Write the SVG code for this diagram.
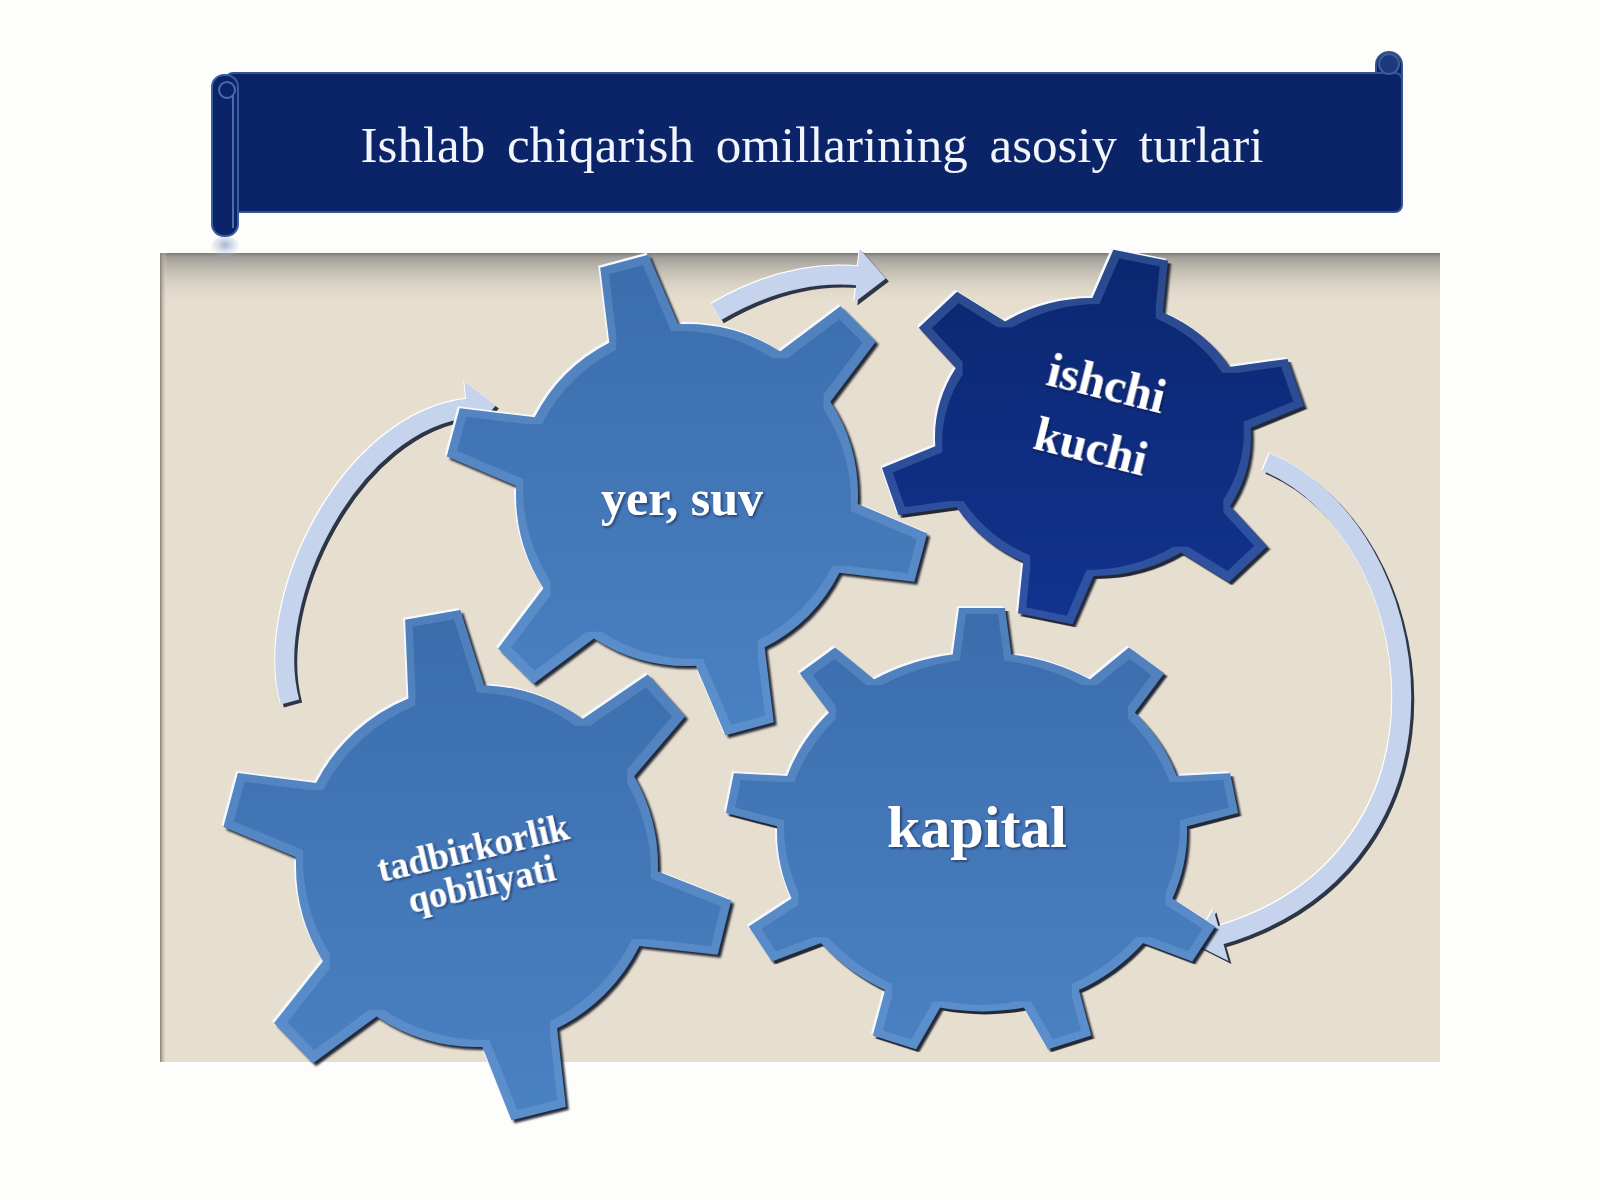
<svg xmlns="http://www.w3.org/2000/svg" width="1600" height="1200" viewBox="0 0 1600 1200">
<defs>
  <style>
    .title { font-family: "Liberation Serif", "Times New Roman", serif; fill: #f2f5fb; text-anchor: middle; }
    .gear-text { font-family: "Liberation Serif", "Times New Roman", serif; font-weight: bold; fill: #ffffff; text-anchor: middle; }
    .arrow { fill: none; stroke: #c6d3ed; stroke-width: 19; marker-end: url(#head); }
  </style>
  <marker id="head" markerUnits="userSpaceOnUse" viewBox="-4 -30 34 60" markerWidth="34" markerHeight="60" refX="0" refY="0" orient="auto">
    <path d="M-3,-27 L26,0 L-3,27 Z" fill="#c6d3ed"/>
  </marker>
  <linearGradient id="gearBlue" x1="0" y1="0" x2="0" y2="1">
    <stop offset="0" stop-color="#3a6cac"/>
    <stop offset="1" stop-color="#4b82c3"/>
  </linearGradient>
  <linearGradient id="gearNavy" x1="0" y1="0" x2="0" y2="1">
    <stop offset="0" stop-color="#0b266f"/>
    <stop offset="1" stop-color="#123490"/>
  </linearGradient>
  <linearGradient id="panelTop" x1="0" y1="0" x2="0" y2="1">
    <stop offset="0" stop-color="#7d7b77" stop-opacity="1"/>
    <stop offset="0.08" stop-color="#9d9b96" stop-opacity="0.95"/>
    <stop offset="1" stop-color="#e6dece" stop-opacity="0"/>
  </linearGradient>
  <linearGradient id="panelLeft" x1="0" y1="0" x2="1" y2="0">
    <stop offset="0" stop-color="#857f76"/>
    <stop offset="1" stop-color="#e6dece" stop-opacity="0"/>
  </linearGradient>
  <radialGradient id="reflect" cx="0.5" cy="0.4" r="0.6">
    <stop offset="0" stop-color="#8ea2c6" stop-opacity="0.8"/>
    <stop offset="1" stop-color="#c9d2e2" stop-opacity="0"/>
  </radialGradient>
  <filter id="bevel" x="-5%" y="-5%" width="110%" height="110%" color-interpolation-filters="sRGB">
    <feOffset in="SourceAlpha" dx="-2.5" dy="-2.5" result="o1"/>
    <feFlood flood-color="#f4f8ff"/>
    <feComposite in2="o1" operator="in" result="hl"/>
    <feOffset in="SourceAlpha" dx="3" dy="3" result="o2"/>
    <feGaussianBlur in="o2" stdDeviation="0.8" result="o2b"/>
    <feFlood flood-color="#0d1426" flood-opacity="0.9"/>
    <feComposite in2="o2b" operator="in" result="sh"/>
    <feMorphology in="SourceAlpha" operator="erode" radius="7" result="er"/>
    <feComposite in="SourceAlpha" in2="er" operator="out" result="ring"/>
    <feFlood flood-color="#9cc2f0" flood-opacity="0.22"/>
    <feComposite in2="ring" operator="in" result="ringc"/>
    <feMerge>
      <feMergeNode in="hl"/>
      <feMergeNode in="sh"/>
      <feMergeNode in="SourceGraphic"/>
      <feMergeNode in="ringc"/>
    </feMerge>
  </filter>
  <filter id="arrowFx" x="-10%" y="-10%" width="120%" height="120%" color-interpolation-filters="sRGB">
    <feOffset in="SourceAlpha" dx="-1.5" dy="-1.5" result="o1"/>
    <feFlood flood-color="#ffffff"/>
    <feComposite in2="o1" operator="in" result="hl"/>
    <feOffset in="SourceAlpha" dx="2.5" dy="2.5" result="o2"/>
    <feFlood flood-color="#1a2236" flood-opacity="0.9"/>
    <feComposite in2="o2" operator="in" result="sh"/>
    <feMerge>
      <feMergeNode in="hl"/>
      <feMergeNode in="sh"/>
      <feMergeNode in="SourceGraphic"/>
    </feMerge>
  </filter>
  <filter id="tshadow" x="-10%" y="-20%" width="120%" height="140%">
    <feDropShadow dx="1.5" dy="1.5" stdDeviation="1" flood-color="#0a1530" flood-opacity="0.6"/>
  </filter>
  <polygon id="toothA" points="150,-38 242,-25 242,25 150,38"/>
  <polygon id="toothB" points="140,-38 212,-28 212,28 140,38"/>
  <polygon id="toothC" points="165,-40 255,-28 255,28 165,40"/>
  <polygon id="toothD" points="188,-31 256,-23 256,23 188,31"/>
  <clipPath id="clipA">
    <circle r="171"/>
    <use href="#toothA" transform="rotate(15)"/>
    <use href="#toothA" transform="rotate(75)"/>
    <use href="#toothA" transform="rotate(135)"/>
    <use href="#toothA" transform="rotate(195)"/>
    <use href="#toothA" transform="rotate(255)"/>
    <use href="#toothA" transform="rotate(315)"/>
  </clipPath>
  <clipPath id="clipB">
    <circle r="158"/>
    <use href="#toothB" transform="rotate(43)"/>
    <use href="#toothB" transform="rotate(103)"/>
    <use href="#toothB" transform="rotate(163)"/>
    <use href="#toothB" transform="rotate(223)"/>
    <use href="#toothB" transform="rotate(283)"/>
    <use href="#toothB" transform="rotate(343)"/>
  </clipPath>
  <clipPath id="clipC">
    <circle r="181"/>
    <use href="#toothC" transform="rotate(14)"/>
    <use href="#toothC" transform="rotate(76)"/>
    <use href="#toothC" transform="rotate(136)"/>
    <use href="#toothC" transform="rotate(195)"/>
    <use href="#toothC" transform="rotate(260)"/>
    <use href="#toothC" transform="rotate(318)"/>
  </clipPath>
  <clipPath id="clipD">
    <circle r="205"/>
    <use href="#toothD" transform="rotate(270)"/>
    <use href="#toothD" transform="rotate(310)"/>
    <use href="#toothD" transform="rotate(350)"/>
    <use href="#toothD" transform="rotate(30)"/>
    <use href="#toothD" transform="rotate(70)"/>
    <use href="#toothD" transform="rotate(110)"/>
    <use href="#toothD" transform="rotate(150)"/>
    <use href="#toothD" transform="rotate(190)"/>
    <use href="#toothD" transform="rotate(230)"/>
  </clipPath>
</defs>

<rect x="0" y="0" width="1600" height="1200" fill="#fdfdfb"/>

<!-- backdrop panel -->
<g id="panel">
  <rect x="160" y="253" width="1280" height="809" fill="#e6dece"/>
  <rect x="160" y="253" width="1280" height="52" fill="url(#panelTop)"/>
  <rect x="160" y="253" width="7" height="809" fill="url(#panelLeft)"/>
</g>

<!-- title banner -->
<g id="title-banner">
  <ellipse cx="225" cy="247" rx="14" ry="11" fill="url(#reflect)"/>
  <rect x="1376" y="52" width="26" height="60" rx="13" fill="#0b2468" stroke="#33548f" stroke-width="2"/>
  <rect x="226" y="73" width="1176" height="139" rx="7" fill="#0b2468" stroke="#33548f" stroke-width="2"/>
  <circle cx="1389" cy="64" r="10" fill="#1d3a7e" stroke="#3d5c98" stroke-width="2"/>
  <rect x="212" y="75" width="26" height="161" rx="12" fill="#0b2468" stroke="#3a5ca0" stroke-width="2"/>
  <line x1="233" y1="95" x2="233" y2="228" stroke="#4b6cae" stroke-width="2"/>
  <circle cx="227" cy="90" r="8" fill="none" stroke="#4b6cae" stroke-width="2"/>
  <text class="title" x="812" y="162" font-size="51" word-spacing="9">Ishlab chiqarish omillarining asosiy turlari</text>
</g>

<!-- connectors -->
<g id="connectors" filter="url(#arrowFx)">
  <path id="arrow-yer-to-ishchi" class="arrow" d="M 716 312 C 750 292, 800 270, 860 276"/>
  <path id="arrow-tadbir-to-yer" class="arrow" d="M 290 702 C 262 600, 350 420, 470 408"/>
  <path id="arrow-ishchi-to-kapital" class="arrow" d="M 1266 462 C 1430 530, 1480 860, 1218 936"/>
</g>

<!-- gear: yer, suv -->
<g id="node-yer-suv">
  <g transform="translate(687,495)" filter="url(#bevel)">
    <rect x="-260" y="-260" width="520" height="520" fill="url(#gearBlue)" clip-path="url(#clipA)"/>
  </g>
  <text class="gear-text" x="682" y="515" font-size="50" filter="url(#tshadow)">yer, suv</text>
</g>

<!-- gear: ishchi kuchi -->
<g id="node-ishchi-kuchi">
  <g transform="translate(1093,437) scale(1,0.88)" filter="url(#bevel)">
    <rect x="-230" y="-230" width="460" height="460" fill="url(#gearNavy)" clip-path="url(#clipB)"/>
  </g>
  <g transform="rotate(14 1095 430)" filter="url(#tshadow)">
    <text class="gear-text" x="1095" y="398" font-size="48">ishchi</text>
    <text class="gear-text" x="1095" y="463" font-size="48">kuchi</text>
  </g>
</g>

<!-- gear: tadbirkorlik qobiliyati -->
<g id="node-tadbirkorlik">
  <g transform="translate(477,866)" filter="url(#bevel)">
    <rect x="-270" y="-270" width="540" height="540" fill="url(#gearBlue)" clip-path="url(#clipC)"/>
  </g>
  <g transform="rotate(-13 480 878)" filter="url(#tshadow)">
    <text class="gear-text" x="480" y="860" font-size="37">tadbirkorlik</text>
    <text class="gear-text" x="480" y="897" font-size="37">qobiliyati</text>
  </g>
</g>

<!-- gear: kapital -->
<g id="node-kapital">
  <g transform="translate(982,832) scale(1,0.875)" filter="url(#bevel)">
    <rect x="-270" y="-270" width="540" height="540" fill="url(#gearBlue)" clip-path="url(#clipD)"/>
  </g>
  <text class="gear-text" x="977" y="847" font-size="60" filter="url(#tshadow)">kapital</text>
</g>
</svg>
